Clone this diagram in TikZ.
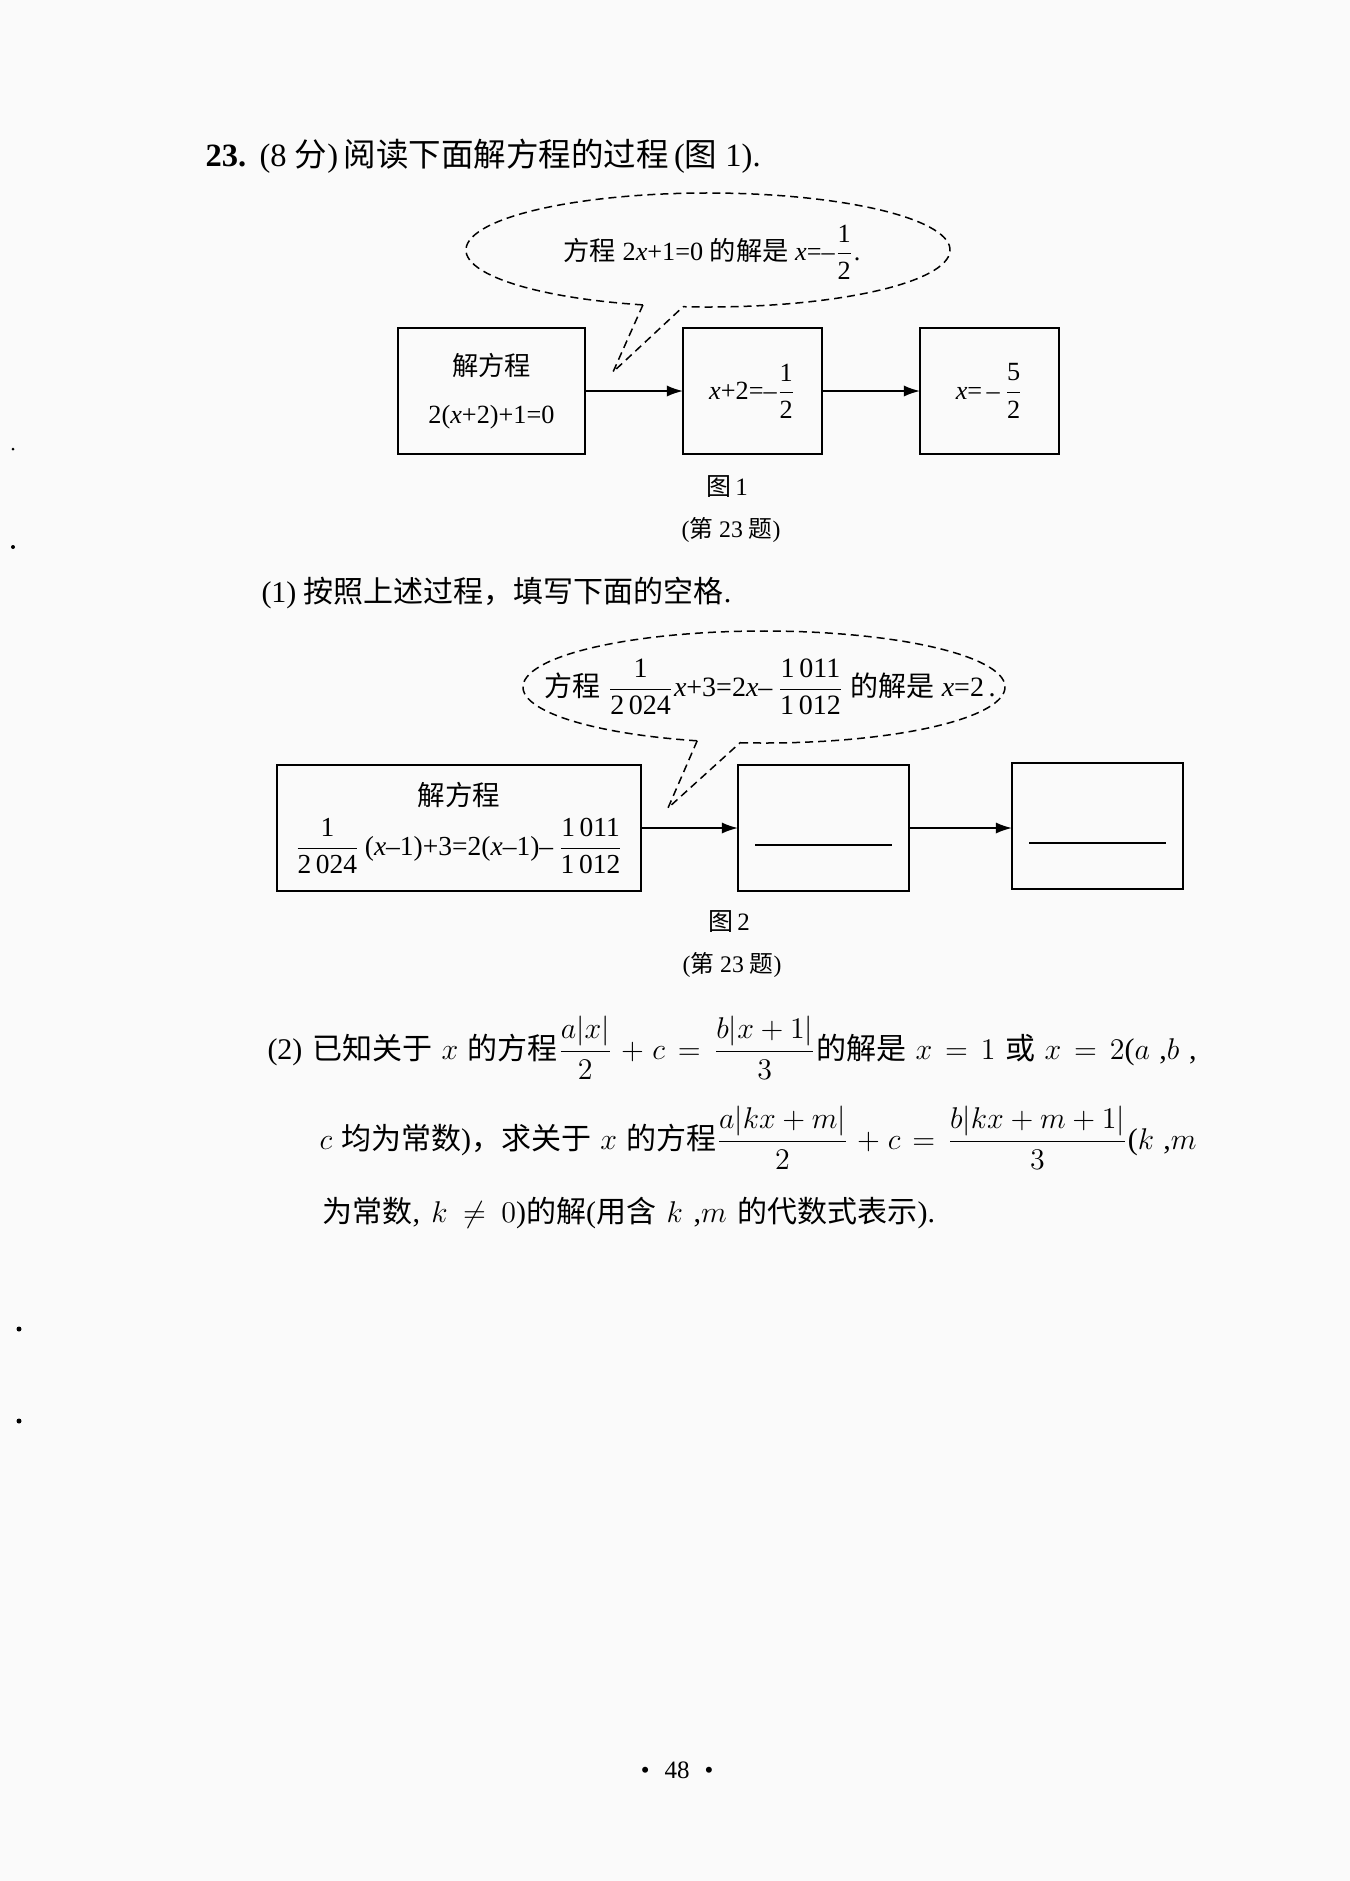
\documentclass[tikz,border=0pt]{standalone}
\usepackage{amsmath}
\usepackage{fontspec}
\setmainfont{Liberation Serif}
\newfontfamily\cjk{Noto Sans CJK SC}
\usetikzlibrary{arrows.meta,calc}

\definecolor{paper}{RGB}{250,250,250}
\newcommand{\fr}[2]{\dfrac{\text{#1}}{\text{#2}}}

\tikzset{
  box/.style={draw, line width=0.8pt, inner sep=0pt, outer sep=0pt,
    minimum height=50.4pt, align=center, font=\fontsize{10.5}{19}\selectfont},
  flow/.style={line width=0.7pt, -{Latex[length=6.5pt,width=4.5pt]}},
  bubble/.style={dash pattern=on 3.2pt off 2pt, line width=0.6pt},
  blank/.style={line width=0.6pt},
  hint/.style={inner sep=0pt, font=\fontsize{10.5}{12}\selectfont},
  body/.style={anchor=west, inner sep=0pt, font=\fontsize{12}{14}\selectfont},
  caption/.style={inner sep=0pt, font=\fontsize{10}{12}\selectfont},
  tag/.style={inner sep=0pt, font=\fontsize{9.5}{11}\selectfont},
}

\begin{document}
\begin{tikzpicture}[x=0.4pt, y=-0.4pt]
    % Page
    \fill[paper] (0,0) rectangle (1350,1881);

    % Title
    \node[body, font=\fontsize{13}{15}\selectfont] (title) at (205,156) {\textbf{23.}\,~(8~{\cjk 分})\,{\cjk 阅读下面解方程的过程}\,({\cjk 图}~1).};

    % Figure 1: boxes and arrows
    \node[box, minimum width=74.8pt] (given1) at (491.5,391) {{\cjk 解方程}\\2(\textit{x}+2)+1=0};
    \node[box, minimum width=55.6pt] (step1) at (752.5,391) {\textit{x}+2=–$\fr{1}{2}$};
    \node[box, minimum width=55.6pt] (result1) at (989.5,391) {\textit{x}=\,–\,$\fr{5}{2}$};
    \draw[flow] (given1.east) -- (step1.west);
    \draw[flow] (step1.east) -- (result1.west);

    % Figure 1: speech bubble
    \coordinate (c1) at (708,250);
    \coordinate (tip1) at (613,372);
    \coordinate (b1l) at ($(c1)+(105.6:242 and 57)$);
    \coordinate (b1r) at ($(c1)+(95.9:242 and 57)$);
    \draw[bubble] (b1l) arc[start angle=105.6, end angle=455.9, x radius=242, y radius=57];
    \draw[bubble] (b1l) -- (tip1) -- (b1r);
    \node[hint] (hint1) at (712,252) {{\cjk 方程}~2\textit{x}+1=0~{\cjk 的解是}~\textit{x}=–$\fr{1}{2}$.};

    \node[caption] (cap1) at (727,487) {{\cjk 图}\,1};
    \node[tag] (tag1) at (731,530) {({\cjk 第}~23~{\cjk 题})};

    % Part (1)
    \node[body] (part1) at (261,593) {(1)~{\cjk 按照上述过程，填写下面的空格}.};

    % Figure 2: boxes and arrows
    \node[box, minimum width=145.6pt, font=\fontsize{11}{20}\selectfont] (given2) at (459,828) {{\cjk 解方程}\\$\fr{1}{2\,024}$\,(\textit{x}–1)+3=2(\textit{x}–1)–\,$\fr{1\,011}{1\,012}$};
    \node[box, minimum width=68.4pt] (step2) at (823.5,828) {};
    \node[box, minimum width=68.4pt] (result2) at (1097.5,826) {};
    \draw[flow] (given2.east) -- (given2.east -| step2.west);
    \draw[flow] (step2.east) -- (step2.east -| result2.west);
    \draw[blank] ($(step2.center)+(-68.5,17)$) -- ++(137,0);
    \draw[blank] ($(result2.center)+(-68.5,17)$) -- ++(137,0);

    % Figure 2: speech bubble
    \coordinate (c2) at (764,687);
    \coordinate (tip2) at (668,808);
    \coordinate (b2l) at ($(c2)+(106.1:241 and 56)$);
    \coordinate (b2r) at ($(c2)+(95.7:241 and 56)$);
    \draw[bubble] (b2l) arc[start angle=106.1, end angle=455.7, x radius=241, y radius=56];
    \draw[bubble] (b2l) -- (tip2) -- (b2r);
    \node[hint, font=\fontsize{11.2}{13}\selectfont] (hint2) at (770,687) {{\cjk 方程}~$\fr{1}{2\,024}$\textit{x}+3=2\textit{x}–\,$\fr{1\,011}{1\,012}$~{\cjk 的解是}~\textit{x}=2\,.};

    \node[caption] (cap2) at (729,922) {{\cjk 图}\,2};
    \node[tag] (tag2) at (732,965) {({\cjk 第}~23~{\cjk 题})};

    % Part (2)
    \node[body] (part2a) at (267,1048) {\makebox[371.6pt][s]{(2) {\cjk 已知关于} $x$ {\cjk 的方程}$\dfrac{a|x|}{2}+c=\dfrac{b|x+1|}{3}${\cjk 的解是} $x=1$ {\cjk 或} $x=2$($a$ ,$b$ ,}};
    \node[body] (part2b) at (319,1138) {\makebox[350.8pt][s]{$c$ {\cjk 均为常数}){\cjk ，求关于} $x$ {\cjk 的方程}$\dfrac{a|kx+m|}{2}+c=\dfrac{b|kx+m+1|}{3}$($k$ ,$m$}};
    \node[body] (part2c) at (322,1213) {\makebox[245pt][s]{{\cjk 为常数}, $k\neq0$){\cjk 的解}({\cjk 用含} $k$ ,$m$ {\cjk 的代数式表示}).}};

    % Page number
    \node[caption] (page) at (677,1770) {\textbullet\hspace{6pt}48\hspace{6pt}\textbullet};

    % Stray marks at the left edge
    \fill (13,449) circle (1.5);
    \fill (13,547) circle (2);
    \fill (19,1329) circle (2.5);
    \fill (19,1421) circle (2.5);
\end{tikzpicture}
\end{document}
